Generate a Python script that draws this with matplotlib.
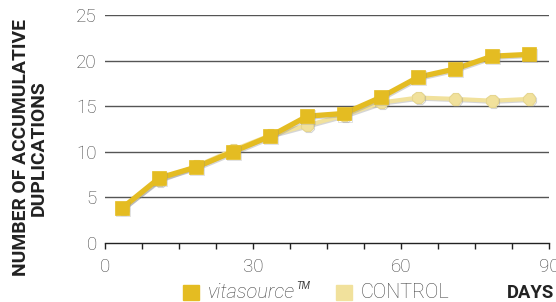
import matplotlib
matplotlib.use("Agg")
import matplotlib.pyplot as plt
import matplotlib.patheffects as pe
from matplotlib.patches import Rectangle
from matplotlib.ticker import FixedLocator, MultipleLocator

days = [3.5, 11, 18.5, 26, 33.5, 41, 48.5, 56, 63.5, 71, 78.5, 86]
vitasource = [3.8, 7.1, 8.3, 10.0, 11.7, 13.9, 14.2, 16.0, 18.2, 19.1, 20.5, 20.7]
control = [3.8, 6.9, 8.4, 10.2, 11.8, 12.9, 14.0, 15.4, 15.95, 15.8, 15.6, 15.8]
y_ticks = [0, 5, 10, 15, 20, 25]
x_labels = [0, 30, 60, 90]

VITA = "#E4BC22"
CTRL = "#F1E19C"
TXT = "#444444"
FONT = "Roboto"

plt.rcParams['font.family'] = [FONT, 'DejaVu Sans']

W, H = 556, 302
fig = plt.figure(figsize=(W / 100, H / 100), dpi=100)
ax = fig.add_axes([105 / W, 1 - 242.5 / H, (549 - 105) / W, (242.5 - 15.3) / H])
ax.set_xlim(0, 90)
ax.set_ylim(0, 25)

for s in ['top', 'right', 'left']:
    ax.spines[s].set_visible(False)
ax.spines['bottom'].set_color('#222222')
ax.spines['bottom'].set_linewidth(1.0)

for yv in y_ticks[1:]:
    ax.axhline(yv, color='#555555', lw=1.0, zorder=1)

ax.yaxis.set_major_locator(FixedLocator(y_ticks))
ax.tick_params(axis='y', length=0, pad=6, labelsize=13.5, labelcolor=TXT)
ax.xaxis.set_major_locator(FixedLocator(x_labels))
ax.xaxis.set_minor_locator(MultipleLocator(7.5))
ax.tick_params(axis='x', which='both', direction='out', length=4, width=1.0,
               color='#222222', pad=7, labelsize=13.5, labelcolor=TXT)
for lab in ax.get_xticklabels() + ax.get_yticklabels():
    lab.set_fontweight('light')

shadow = [pe.SimpleLineShadow(offset=(0.8, -0.8), shadow_color='#888888', alpha=0.35), pe.Normal()]
ax.plot(days, control, color=CTRL, lw=3.0, marker='8', ms=9, mec='#E6D690', mew=0.8,
        zorder=3, clip_on=False, path_effects=shadow)
ax.plot(days, vitasource, color=VITA, lw=3.8, marker='s', ms=10, mec=VITA, mew=0.5,
        zorder=4, clip_on=False, path_effects=shadow)

fig.text(30 / W, 1 - 148 / H, "NUMBER OF ACCUMULATIVE\nDUPLICATIONS", rotation=90,
         fontsize=13.9, fontweight='bold', color='#222222', linespacing=1.0,
         ha='center', va='center', multialignment='center')

# legend
fig.patches.append(Rectangle((183 / W, 1 - 300 / H), 16 / W, 15 / H, transform=fig.transFigure,
                             color=VITA, figure=fig))
vt = fig.text(208 / W, 1 - 293 / H, "vitasource", fontsize=14.5, style='italic', fontweight='light',
              color=TXT, va='center', ha='left')
fig.canvas.draw()
bb = vt.get_window_extent()
fig.text((bb.x1 + 1) / W, 1 - 286 / H, "TM", fontsize=7, style='italic', color=TXT,
         va='center', ha='left')
fig.patches.append(Rectangle((336 / W, 1 - 300 / H), 16 / W, 15 / H, transform=fig.transFigure,
                             color=CTRL, figure=fig))
fig.text(361 / W, 1 - 293 / H, "CONTROL", fontsize=14.3, fontweight='light', color=TXT,
         va='center', ha='left')
fig.text(507 / W, 1 - 293 / H, "DAYS", fontsize=13.3, fontweight='bold', color='#222222',
         va='center', ha='left')

fig.savefig("out.png", dpi=100)
